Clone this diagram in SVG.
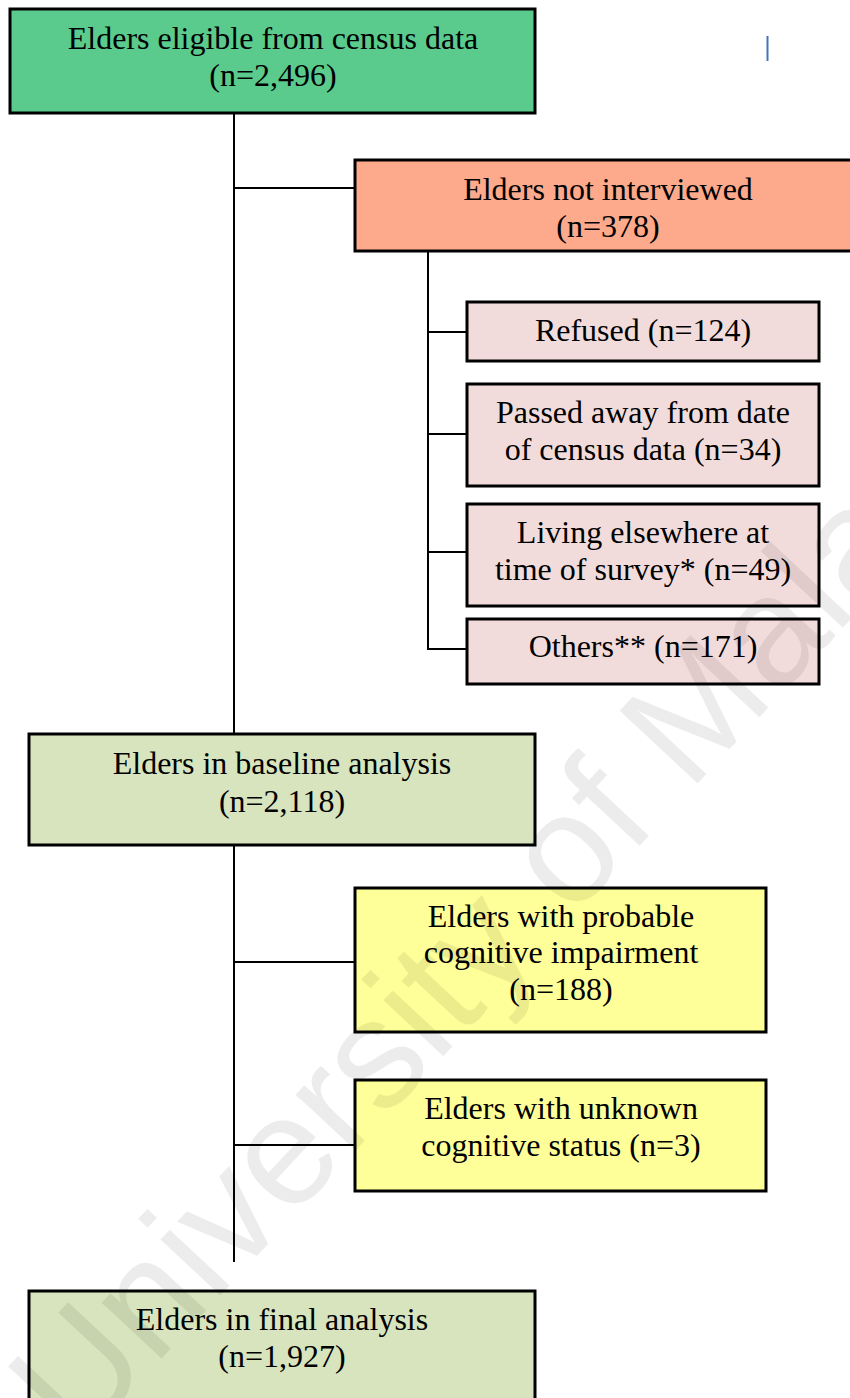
<svg xmlns="http://www.w3.org/2000/svg" width="850" height="1398" viewBox="0 0 850 1398">
<style>
.box{stroke:#000;stroke-width:3}
.t{font-family:"Liberation Serif","Times New Roman",serif;font-size:32px;fill:#000;text-anchor:middle}
.c{stroke:#000;stroke-width:2;fill:none}
.wm{font-family:"Liberation Sans",Arial,sans-serif;font-size:155px;fill:#000;fill-opacity:0.075}
</style>
<rect width="850" height="1398" fill="#fff"/>
<g id="connectors">
<path class="c" d="M234 114V733M234 188H355"/>
<path class="c" d="M428 252V650M428 332H467M428 434H467M428 552H467M428 649H467"/>
<path class="c" d="M234 846V1262M234 962H355M234 1145H355"/>
</g>
<g id="n1"><rect class="box" x="10" y="9" width="525" height="104" fill="#5ACB8C"/>
<text class="t" x="273" y="49">Elders eligible from census data</text><text class="t" x="273" y="86">(n=2,496)</text></g>
<g id="n2"><rect class="box" x="355" y="160" width="510" height="91" fill="#FDA98B"/>
<text class="t" x="608" y="200">Elders not interviewed</text><text class="t" x="608" y="237">(n=378)</text></g>
<g id="n3"><rect class="box" x="467" y="302" width="352" height="59" fill="#F2DCDB"/>
<text class="t" x="643" y="341">Refused (n=124)</text></g>
<g id="n4"><rect class="box" x="467" y="384" width="352" height="102" fill="#F2DCDB"/>
<text class="t" x="643" y="423">Passed away from date</text><text class="t" x="643" y="460">of census data (n=34)</text></g>
<g id="n5"><rect class="box" x="467" y="504" width="352" height="102" fill="#F2DCDB"/>
<text class="t" x="643" y="543">Living elsewhere at</text><text class="t" x="643" y="580">time of survey* (n=49)</text></g>
<g id="n6"><rect class="box" x="467" y="619" width="352" height="65" fill="#F2DCDB"/>
<text class="t" x="643" y="657">Others** (n=171)</text></g>
<g id="n7"><rect class="box" x="29" y="734" width="506" height="111" fill="#D7E4BD"/>
<text class="t" x="282" y="774">Elders in baseline analysis</text><text class="t" x="282" y="812">(n=2,118)</text></g>
<g id="n8"><rect class="box" x="355" y="888" width="411" height="144" fill="#FFFF99"/>
<text class="t" x="561" y="927">Elders with probable</text><text class="t" x="561" y="963">cognitive impairment</text><text class="t" x="561" y="1000">(n=188)</text></g>
<g id="n9"><rect class="box" x="355" y="1080" width="411" height="111" fill="#FFFF99"/>
<text class="t" x="561" y="1119">Elders with unknown</text><text class="t" x="561" y="1156">cognitive status (n=3)</text></g>
<g id="n10"><rect class="box" x="29" y="1291" width="506" height="140" fill="#D7E4BD"/>
<text class="t" x="282" y="1330">Elders in final analysis</text><text class="t" x="282" y="1367">(n=1,927)</text></g>
<line x1="767.5" y1="36" x2="767.5" y2="61" stroke="#4472C4" stroke-width="2"/>
<g id="watermark"><text class="wm" transform="translate(78 1448) rotate(-47)">University of Malaya</text></g>
</svg>
